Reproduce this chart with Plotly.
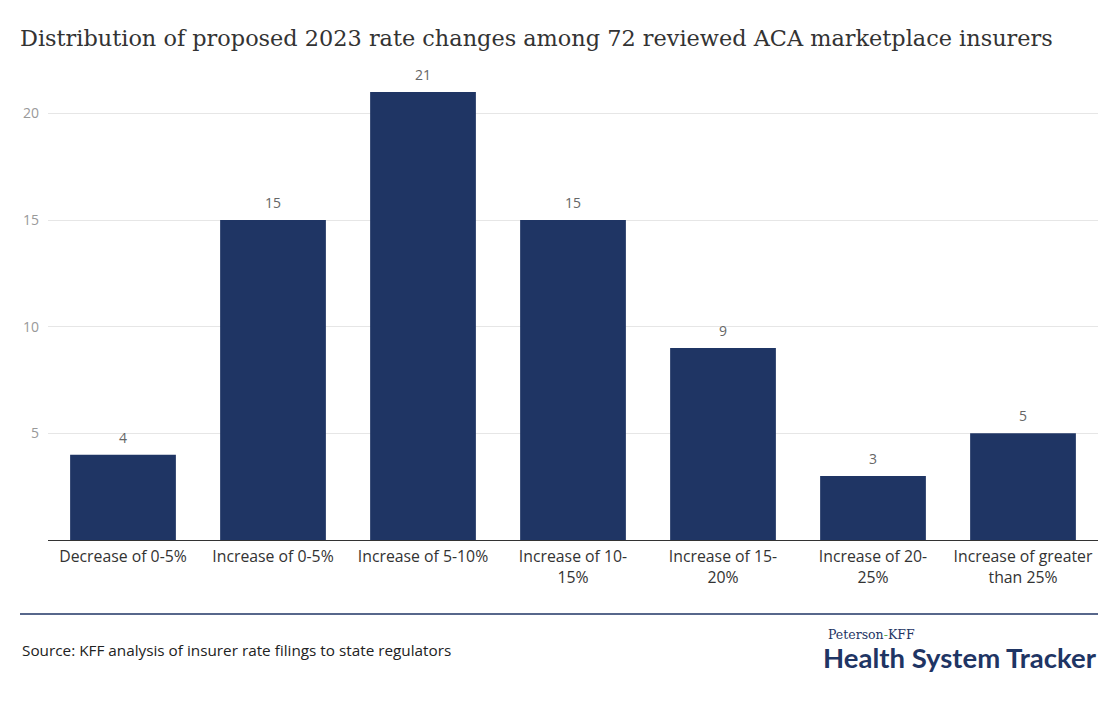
import plotly.graph_objects as go

categories = ["Decrease of 0-5%", "Increase of 0-5%", "Increase of 5-10%",
              "Increase of 10-15%", "Increase of 15-20%", "Increase of 20-25%",
              "Increase of greater than 25%"]
tick_labels = ["Decrease of 0-5%", "Increase of 0-5%", "Increase of 5-10%",
               "Increase of 10-<br>15%", "Increase of 15-<br>20%", "Increase of 20-<br>25%",
               "Increase of greater<br>than 25%"]
insurers = [4, 15, 21, 15, 9, 3, 5]

navy = "#1f3564"
sans = "Open Sans"

# page is drawn with an 8px body margin, so work in screen pixels and shift
OFF = 8
W, H = 1120, 705
L = 48 - OFF
T = 60 - OFF
R = W - (1098 - OFF)
B = H - (540 - OFF)
pw, ph = W - L - R, H - T - B


def px_x(v):
    return (v - OFF - L) / pw


def px_y(v):
    return (H - B - (v - OFF)) / ph


fig = go.Figure()
fig.add_trace(go.Bar(
    x=categories, y=insurers,
    marker=dict(color=navy, line=dict(width=0)),
    hoverinfo="x+y",
))

for c, v in zip(categories, insurers):
    fig.add_annotation(x=c, y=v, text=str(v), showarrow=False,
                       yanchor="bottom", yshift=6,
                       font=dict(family=sans, size=14, color="#666666"))

fig.update_layout(
    width=W, height=H,
    margin=dict(l=L, r=R, t=T, b=B),
    paper_bgcolor="white", plot_bgcolor="white",
    bargap=0.295,
    showlegend=False,
    title=dict(text="Distribution of proposed 2023 rate changes among 72 reviewed ACA marketplace insurers",
               x=(20 - OFF) / W, xanchor="left", y=1 - (38 - OFF) / H, yanchor="middle",
               font=dict(family="DejaVu Serif", size=22.4, color="#333333")),
    xaxis=dict(tickmode="array", tickvals=categories, ticktext=tick_labels,
               tickfont=dict(family=sans, size=15.8, color="#333333"),
               ticklabelstandoff=2,
               showline=True, linecolor="#333333", linewidth=1,
               ticks="", showgrid=False),
    yaxis=dict(range=[0, 22.5], tickvals=[5, 10, 15, 20],
               tickfont=dict(family=sans, size=14, color="#999999"),
               ticklabelstandoff=8,
               showgrid=True, gridcolor="#e6e6e6", gridwidth=1,
               zeroline=False, ticks="", showline=False),
    font=dict(family=sans),
)

# rule above the footer
fig.add_shape(type="line", xref="paper", yref="paper",
              x0=px_x(20), x1=px_x(1098), y0=px_y(614), y1=px_y(614),
              line=dict(color=navy, width=1.5))

fig.add_annotation(text="Source: KFF analysis of insurer rate filings to state regulators",
                   xref="paper", yref="paper", x=px_x(20), y=px_y(650),
                   xanchor="left", yanchor="middle", showarrow=False,
                   font=dict(family=sans, size=15.3, color="#222222"))
fig.add_annotation(text="Peterson<span style='color:#5aab54'>-</span>KFF",
                   xref="paper", yref="paper", x=px_x(826), y=px_y(634),
                   xanchor="left", yanchor="middle", showarrow=False,
                   font=dict(family="DejaVu Serif", size=12.5, color=navy))
fig.add_annotation(text="<b>Health System Tracker</b>",
                   xref="paper", yref="paper", x=px_x(1099), y=px_y(657),
                   xanchor="right", yanchor="middle", showarrow=False,
                   font=dict(family="Lato", size=27.5, color=navy))

fig.write_html("out.html")
